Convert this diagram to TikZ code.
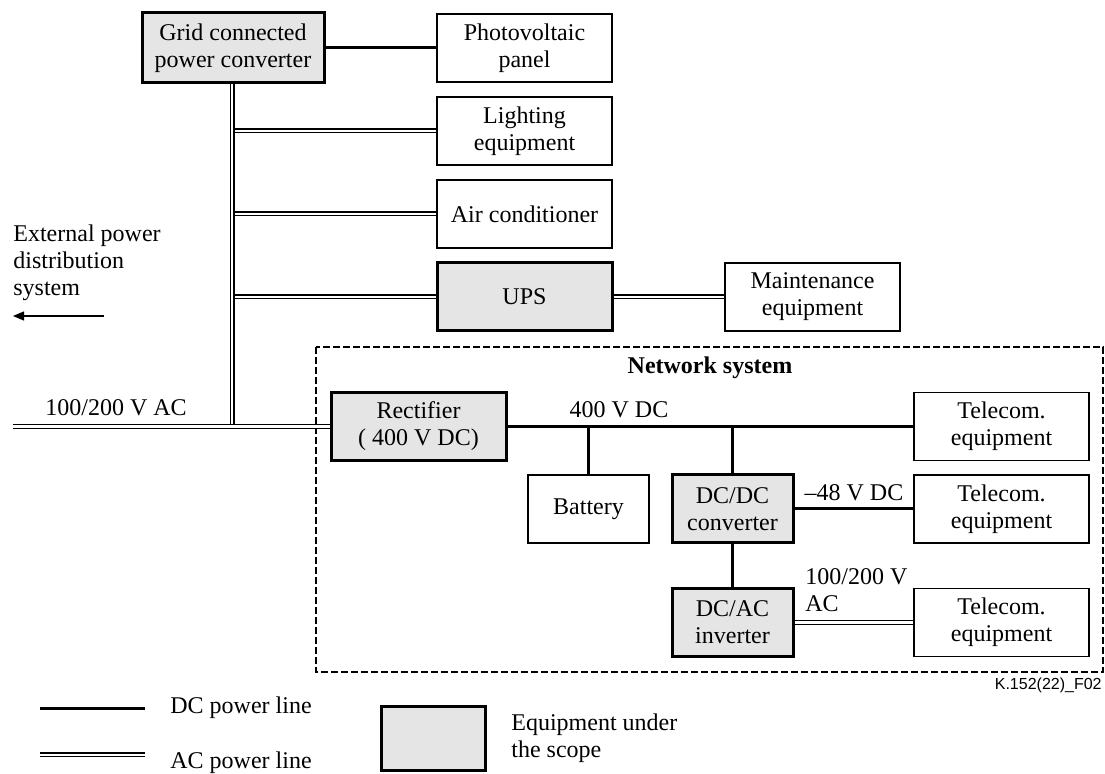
\documentclass[tikz,border=0pt]{standalone}
\usepackage{fontspec}
\setmainfont{Liberation Serif}
\newfontfamily\figfont{Liberation Sans}
\usetikzlibrary{arrows.meta,positioning}

\begin{document}
\begin{tikzpicture}[
  x=0.5pt, y=-0.5pt,
  font=\fontsize{12}{13.5}\selectfont,
  box/.style={draw=black, line width=0.7pt, fill=white, align=center, inner sep=0pt,
              minimum width=87.5pt, minimum height=34pt},
  scopebox/.style={box, line width=1.5pt, fill=black!10},
  narrow/.style={minimum width=60.5pt},
  dc/.style={draw=black, line width=1.5pt},
  ac/.style={draw=black, line width=0.55pt, double=white, double distance=1.4pt},
  zone/.style={draw=black, line width=1.4pt, dash pattern=on 3.5pt off 1.5pt}
]
\path[use as bounding box] (0,0) rectangle (1105,774);
\draw[zone] (316,347) rectangle (1103,672);
\node[font=\fontsize{12}{13.5}\selectfont\bfseries] (netlbl) at (710,368) {Network system};

\node[scopebox, minimum width=91pt, minimum height=35pt] (grid) at (233,48) {Grid connected\\power converter};
\node[box] (pv) at (524.5,48) {Photovoltaic\\panel};
\node[box] (light) at (524.5,131) {Lighting\\equipment};
\node[box] (aircon) at (524.5,214) {Air conditioner};
\node[scopebox] (ups) at (524.5,297) {UPS};
\node[box] (maint) at (812.5,297) {Maintenance\\equipment};

\node[scopebox] (rect) at (418.5,426.5) {Rectifier\\( 400 V DC)};
\node[box, narrow] (batt) at (588.5,509) {Battery};
\node[scopebox, narrow] (dcdc) at (732.5,509) {DC/DC\\converter};
\node[scopebox, narrow] (dcac) at (732.5,622.5) {DC/AC\\inverter};
\node[box] (tel1) at (1001.5,426.5) {Telecom.\\equipment};
\node[box] (tel2) at (1001.5,509) {Telecom.\\equipment};
\node[box] (tel3) at (1001.5,622.5) {Telecom.\\equipment};

\coordinate (acin) at (13,426.5);
\coordinate (bus) at (232,426.5);
\draw[ac] (bus |- light.west) -- (light.west);
\draw[ac] (bus |- aircon.west) -- (aircon.west);
\draw[ac] (bus |- ups.west) -- (ups.west);
\draw[ac] (grid.south -| bus) -- (bus);
\draw[ac] (acin) -- (rect.west);
\draw[ac] (ups) -- (maint);
\draw[ac] (dcac) -- (tel3);
\draw[dc] (grid) -- (pv);
\draw[dc] (rect) -- (tel1);
\draw[dc] (batt.north) -- (batt.north |- tel1.west);
\draw[dc] (dcdc.north) -- (dcdc.north |- tel1.west);
\draw[dc] (dcdc) -- (tel2);
\draw[dc] (dcdc) -- (dcac);

\node (aclbl) at (116,408) {100/200 V AC};
\node (dclbl) at (619,410) {400 V DC};
\node (neglbl) at (854,493) {--48 V DC};
\node[align=left, inner sep=0pt, anchor=west] (invlbl) at (805,590) {100/200 V\\AC};

\node[align=left, inner sep=0pt, anchor=north west] (ext) at (13,224) {External power\\distribution\\system};
\coordinate (extR) at (104,316);
\coordinate (extL) at (13,316);
\draw[line width=0.6pt, -{Triangle[length=5.5pt,width=4.5pt]}] (extR) -- (extL);

\node[anchor=east, inner sep=0pt, font=\figfont\fontsize{8}{9}\selectfont] (figid) at (1102,685) {K.152(22)\_F02};

\coordinate (dcA) at (40,709);
\coordinate (dcB) at (145,709);
\coordinate (acA) at (40,755);
\coordinate (acB) at (145,755);
\draw[dc] (dcA) -- (dcB);
\draw[ac] (acA) -- (acB);
\node[anchor=west, inner sep=0pt] (dckey) at (170,708) {DC power line};
\node[anchor=west, inner sep=0pt] (ackey) at (170,763) {AC power line};
\node[scopebox, minimum width=52pt, minimum height=32pt] (scopekey) at (433.5,739) {};
\node[anchor=west, align=left, inner sep=0pt] (scopetxt) at (511,738) {Equipment under\\the scope};
\end{tikzpicture}
\end{document}
